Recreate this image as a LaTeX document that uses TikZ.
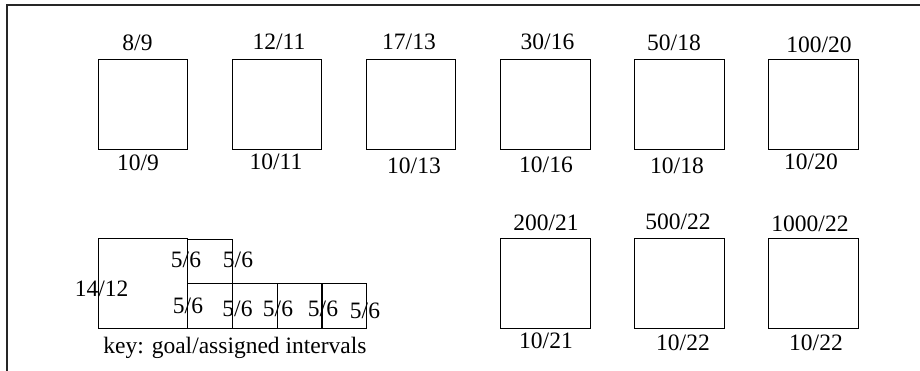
\documentclass[tikz,border=0pt]{standalone}
\usepackage{fontspec}
\setmainfont{Liberation Serif}
\begin{document}
\begin{tikzpicture}[x=1pt,y=-1pt,
  box/.style={draw=black, line width=1pt, rectangle, inner sep=0pt, minimum width=89.5pt, minimum height=89.5pt},
  cell/.style={draw=black, line width=1pt, rectangle, inner sep=0pt, minimum width=44.7pt, minimum height=44.5pt},
  lbl/.style={anchor=base, inner sep=0pt, font=\fontsize{23.5}{28}\selectfont}]
\useasboundingbox (0,0) rectangle (920,371);
% frame
\coordinate (fl) at (7,371);
\coordinate (fc) at (7,5);
\coordinate (fr) at (920,5);
\draw[line width=2pt, black!85] (fl) -- (fc) -- (fr);
% top row boxes
\node[box] (b1) at (143,104.5) {};
\node[box] (b2) at (277,104.5) {};
\node[box] (b3) at (411,104.5) {};
\node[box] (b4) at (545.5,104.5) {};
\node[box] (b5) at (679.5,104.5) {};
\node[box] (b6) at (813.5,104.5) {};
\node[lbl] (t1) at (137.5,51) {8/9};
\node[lbl] (t2) at (279,50) {12/11};
\node[lbl] (t3) at (409,50) {17/13};
\node[lbl] (t4) at (547.5,50) {30/16};
\node[lbl] (t5) at (674,51) {50/18};
\node[lbl] (t6) at (819,53) {100/20};
\node[lbl] (u1) at (138,171) {10/9};
\node[lbl] (u2) at (276,170) {10/11};
\node[lbl] (u3) at (414,174) {10/13};
\node[lbl] (u4) at (546,173) {10/16};
\node[lbl] (u5) at (677,174) {10/18};
\node[lbl] (u6) at (811,170) {10/20};
% second row boxes
\node[box] (b7) at (545.5,283.5) {};
\node[box] (b8) at (679.5,283.5) {};
\node[box] (b9) at (813.5,283.5) {};
\node[lbl] (t7) at (546,231) {200/21};
\node[lbl] (t8) at (678,230) {500/22};
\node[lbl] (t9) at (810,232) {1000/22};
\node[lbl] (u7) at (546,348) {10/21};
\node[lbl] (u8) at (683,350) {10/22};
\node[lbl] (u9) at (816,350) {10/22};
% key
\node[draw=black, line width=1pt, rectangle, inner sep=0pt, minimum width=89.3pt, minimum height=89pt] (k0) at (143.3,283.5) {};
\node[cell] (ku) at (210.3,261.5) {};
\node[cell] (k1) at (210.3,306) {};
\node[cell] (k2) at (255,306) {};
\node[cell] (k3) at (299.7,306) {};
\node[cell] (k4) at (344.3,306) {};
\node[lbl] (l0) at (101.7,296) {14/12};
\node[lbl] (lu1) at (186,267) {5/6};
\node[lbl] (lu2) at (238,267) {5/6};
\node[lbl] (l1) at (188,313) {5/6};
\node[lbl] (l2) at (237.5,316) {5/6};
\node[lbl] (l3) at (278,316) {5/6};
\node[lbl] (l4) at (323,316) {5/6};
\node[lbl] (l5) at (365,318) {5/6};
\node[lbl] (key) at (235,353) {key: goal/assigned intervals};
\end{tikzpicture}
\end{document}
